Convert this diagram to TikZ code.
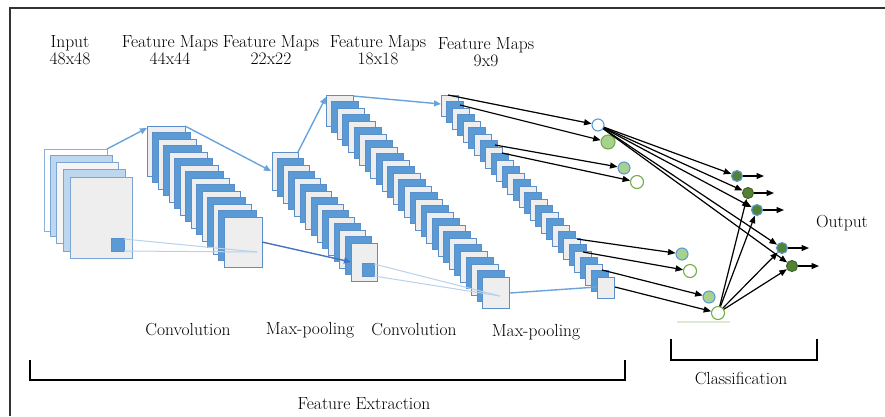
\documentclass[tikz,border=0pt]{standalone}
\usetikzlibrary{arrows.meta}

\definecolor{fmblue}{HTML}{5B9BD5}
\definecolor{fmedge}{HTML}{5A8FCB}
\definecolor{fmgray}{HTML}{EEEEEE}
\definecolor{fmlight}{HTML}{BDD7EE}
\definecolor{nlgreen}{HTML}{A9D18E}
\definecolor{ngreen}{HTML}{70AD47}
\definecolor{ndark}{HTML}{548235}
\definecolor{linkblue}{HTML}{6AA3DC}
\definecolor{linkdark}{HTML}{4472C4}
\definecolor{ghost}{HTML}{B8D1EC}
\definecolor{ghostgreen}{HTML}{DDEBD3}

% stack of feature maps: x0, y0, dx, dy, width, height, last index
\newcommand{\fmstack}[7]{%
  \foreach \i [evaluate=\i as \xx using #1+\i*#3,
               evaluate=\i as \yy using #2+\i*#4] in {0,...,#7}{%
    \ifodd\i\def\fc{fmblue}\else\def\fc{fmgray}\fi
    \draw[fmframe, fill=\fc] (\xx,\yy) rectangle ++(#5,#6);
  }%
}

\tikzset{
  fmframe/.style={draw=fmedge, line width=0.9pt},
  lbl/.style={font=\fontsize{17.5}{17}\selectfont, inner sep=0pt, align=center},
  bluelink/.style={draw=linkblue, line width=1.4pt, -{Triangle[length=7pt,width=6pt]}},
  darklink/.style={draw=linkdark, line width=1.4pt, -{Triangle[length=7pt,width=6pt]}},
  ghostlink/.style={draw=ghost, line width=1pt},
  arr/.style={draw=black, line width=1.2pt, -{Triangle[length=7.5pt,width=6pt]}},
  neuron/.style={circle, inner sep=0pt, line width=1.1pt},
  hollowblue/.style={neuron, minimum size=12pt, draw=fmblue, fill=white},
  hollowgreen/.style={neuron, minimum size=13pt, draw=ngreen, fill=white},
  softgreen/.style={neuron, minimum size=12pt, draw=fmblue, fill=nlgreen},
  bigsoft/.style={neuron, minimum size=14pt, draw=ngreen, fill=nlgreen},
  outblue/.style={neuron, minimum size=11pt, draw=fmblue, fill=ndark},
  outdark/.style={neuron, minimum size=11pt, draw=ndark!80!black, fill=ndark},
  bracket/.style={draw=black, line width=1.5pt},
}

\begin{document}
\begin{tikzpicture}[x=1pt, y=-1pt]
\useasboundingbox (0,0) rectangle (885,416);

% outer frame
\draw[line width=1.5pt, black!80] (10,416) -- (10,8) -- (885,8);

% headers
\node[lbl] (hin)  at (70,50)  {Input\\48x48};
\node[lbl] (hfm1) at (170,50) {Feature Maps\\44x44};
\node[lbl] (hfm2) at (271,50) {Feature Maps\\22x22};
\node[lbl] (hfm3) at (378,50) {Feature Maps\\18x18};
\node[lbl] (hfm4) at (486,52) {Feature Maps\\9x9};

% input image stack
\draw[draw=fmedge!70, line width=0.9pt, fill=white]   (44,149) rectangle ++(63,82);
\draw[draw=fmedge!80, line width=0.9pt, fill=fmlight] (50,155) rectangle ++(62,81);
\draw[draw=fmedge!80, line width=0.9pt, fill=fmgray!60] (56,162) rectangle ++(62,81);
\draw[draw=fmedge!80, line width=0.9pt, fill=fmlight] (63,169) rectangle ++(62,82);
\draw[draw=fmedge!80, line width=0.9pt, fill=fmgray]  (70,177) rectangle ++(62,81);
\draw[fmframe, fill=fmblue] (111,238) rectangle (124,251);

% convolution and pooling stacks
\fmstack{147}{126}{5.5}{6.5}{38}{50}{14}
\fmstack{272}{152}{5.64}{6.5}{26}{38}{14}
\draw[fmframe, fill=fmblue] (362,263) rectangle (374,276);
\fmstack{326}{95}{5.6}{6.5}{27}{31}{28}
\fmstack{441}{95}{5.57}{6.5}{17}{21}{28}

% anchor points on the stacks
\coordinate (inTR)  at (107,149);
\coordinate (inSqT) at (124,239);
\coordinate (inSqB) at (124,251);
\coordinate (c1TL)  at (147,128);
\coordinate (c1TR)  at (185,126);
\coordinate (c1In)  at (257,252);
\coordinate (c1R)   at (262,242);
\coordinate (p1L)   at (271,171);
\coordinate (p1TR)  at (298,152);
\coordinate (p1Sq)  at (351,262);
\coordinate (p1SqT) at (374,264);
\coordinate (p1SqB) at (374,276);
\coordinate (c2TL)  at (326,97);
\coordinate (c2TR)  at (353,96);
\coordinate (c2In)  at (500,296);
\coordinate (c2R)   at (510,293);
\coordinate (p2L)   at (441,104);
\coordinate (p2F)   at (597,287);

% links between the stacks
\draw[ghostlink] (inSqT) -- (c1In);
\draw[ghostlink] (inSqB) -- (c1In);
\draw[ghostlink] (p1SqT) -- (c2In);
\draw[ghostlink] (p1SqB) -- (c2In);
\draw[bluelink] (inTR) -- (c1TL);
\draw[bluelink] (c1TR) -- (p1L);
\draw[bluelink] (p1TR) -- (c2TL);
\draw[bluelink] (c2TR) -- (p2L);
\draw[darklink] (c1R) -- (p1Sq);
\draw[draw=linkblue, line width=1.4pt] (c2R) -- (p2F);

% flattened units
\node[hollowblue]  (A) at (598,125) {};
\node[bigsoft]     (B) at (608,142) {};
\node[softgreen]   (C) at (624,168) {};
\node[hollowgreen] (D) at (637,182) {};
\node[softgreen]   (E) at (682,254) {};
\node[hollowgreen] (F) at (690,271) {};
\node[softgreen]   (G) at (709,297) {};
\node[hollowgreen] (H) at (718,313) {};
\draw[draw=ghostgreen, line width=1.5pt] (677,322) -- (730,322);

% output units
\node[outblue] (O1) at (737,176) {};
\node[outdark] (O2) at (748,193) {};
\node[outblue] (O3) at (757,210) {};
\node[outblue] (O4) at (782,248) {};
\node[outdark] (O5) at (792,266) {};
\coordinate (Y1) at (764,176);
\coordinate (Y2) at (774,193);
\coordinate (Y3) at (784,210);
\coordinate (Y4) at (809,248);
\coordinate (Y5) at (819,266);

% stack outputs to flattened units
\coordinate (s1) at (448,95);
\coordinate (s2) at (460,105);
\coordinate (s3) at (495,145);
\coordinate (s4) at (502,153);
\coordinate (s5) at (577,239);
\coordinate (s6) at (583,252);
\coordinate (s7) at (602,270);
\coordinate (s8) at (615,287);
\draw[arr] (s1) -- (A);
\draw[arr] (s2) -- (B);
\draw[arr] (s3) -- (C);
\draw[arr] (s4) -- (D);
\draw[arr] (s5) -- (E);
\draw[arr] (s6) -- (F);
\draw[arr] (s7) -- (G);
\draw[arr] (s8) -- (H);

% fully connected layer
\foreach \o in {O1,O2,O3,O4,O5} \draw[arr] (A) -- (\o);
\foreach \o in {O2,O3,O4,O5} \draw[arr] (H) -- (\o);
\draw[arr] (O1) -- (Y1);
\draw[arr] (O2) -- (Y2);
\draw[arr] (O3) -- (Y3);
\draw[arr] (O4) -- (Y4);
\draw[arr] (O5) -- (Y5);
\node[lbl] (out) at (842,223) {Output};

% stage labels
\node[lbl] (lconv1) at (188,330) {Convolution};
\node[lbl] (lpool1) at (310,330) {Max-pooling};
\node[lbl] (lconv2) at (414,330) {Convolution};
\node[lbl] (lpool2) at (536,332) {Max-pooling};

% braces under the stages
\draw[bracket] (30,360) -- (30,380) -- (625,380) -- (625,360);
\node[lbl] (lfe) at (364,404) {Feature Extraction};
\draw[bracket] (671,339) -- (671,360) -- (817,360) -- (817,339);
\node[lbl] (lcls) at (741,378) {Classification};
\end{tikzpicture}
\end{document}
